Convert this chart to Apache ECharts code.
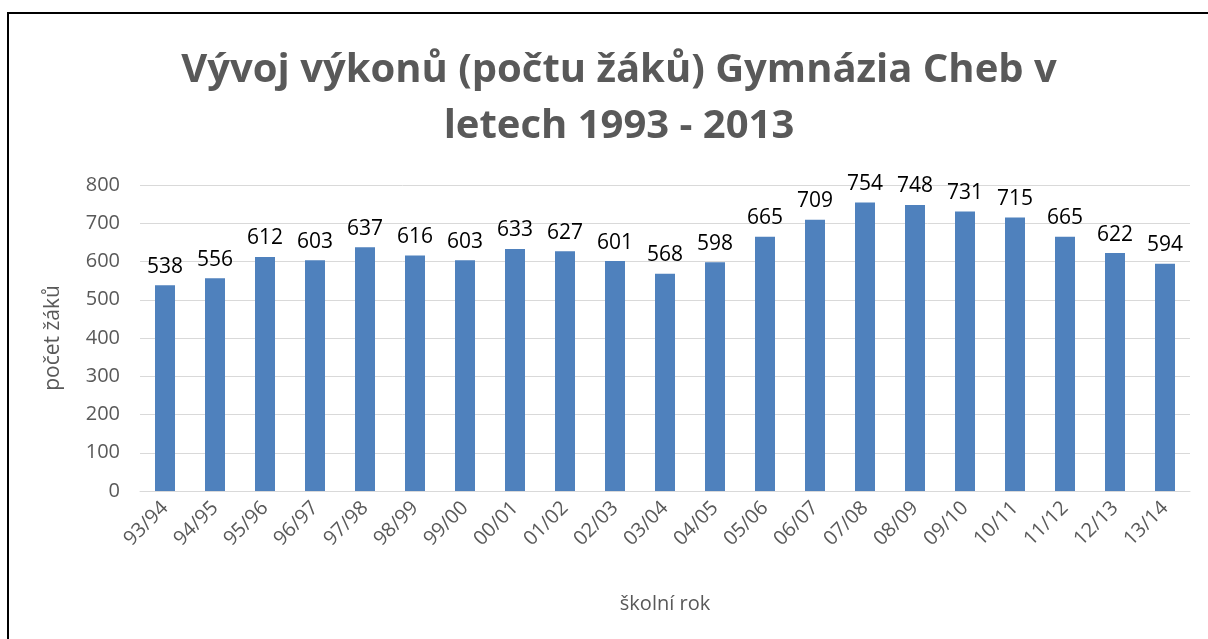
<!DOCTYPE html>
<html>
<head>
<meta charset="utf-8">
<script src="https://cdn.jsdelivr.net/npm/echarts@6/dist/echarts.min.js"></script>
<style>
  html, body { margin: 0; padding: 0; background: #fff; }
  #chart { width: 1208px; height: 639px; }
</style>
</head>
<body>
<div id="chart"></div>
<script>
var years = ['93/94', '94/95', '95/96', '96/97', '97/98', '98/99', '99/00', '00/01', '01/02', '02/03',
    '03/04', '04/05', '05/06', '06/07', '07/08', '08/09', '09/10', '10/11', '11/12', '12/13', '13/14'];
var students = [538, 556, 612, 603, 637, 616, 603, 633, 627, 601,
    568, 598, 665, 709, 754, 748, 731, 715, 665, 622, 594];

var myChart = echarts.init(document.getElementById('chart'));
myChart.setOption({
    animation: false,
    textStyle: {fontFamily: 'Open Sans'},
    title: {
        text: 'Vývoj výkonů (počtu žáků) Gymnázia Cheb v\nletech 1993 - 2013',
        left: 614,
        textAlign: 'center',
        top: 38,
        textStyle: {fontSize: 40, fontWeight: 'bold', color: '#595959', lineHeight: 56, fontFamily: 'Open Sans'}
    },
    graphic: [
        {
            type: 'rect',
            shape: {x: 8, y: 13, width: 1220, height: 650},
            style: {fill: 'none', stroke: '#000', lineWidth: 2},
            silent: true
        }
    ],
    grid: {left: 140, right: 18, top: 185, bottom: 148},
    xAxis: {
        type: 'category',
        data: years,
        name: 'školní rok',
        nameLocation: 'middle',
        nameGap: 103,
        nameTextStyle: {fontSize: 20, color: '#595959'},
        axisTick: {show: false},
        axisLine: {lineStyle: {color: '#d9d9d9'}},
        axisLabel: {rotate: 45, fontSize: 20, color: '#595959', margin: 14}
    },
    yAxis: {
        type: 'value',
        min: 0,
        max: 800,
        interval: 100,
        name: 'počet žáků',
        nameLocation: 'middle',
        nameGap: 76,
        nameTextStyle: {fontSize: 21, color: '#595959'},
        axisLabel: {fontSize: 20, color: '#595959', margin: 20},
        splitLine: {lineStyle: {color: '#d9d9d9'}}
    },
    series: [
        {
            name: 'počet žáků',
            type: 'bar',
            data: students,
            barWidth: '40%',
            itemStyle: {color: '#4f81bd'},
            label: {show: true, position: 'top', fontSize: 21, color: '#000', distance: 8}
        }
    ]
});
</script>
</body>
</html>
